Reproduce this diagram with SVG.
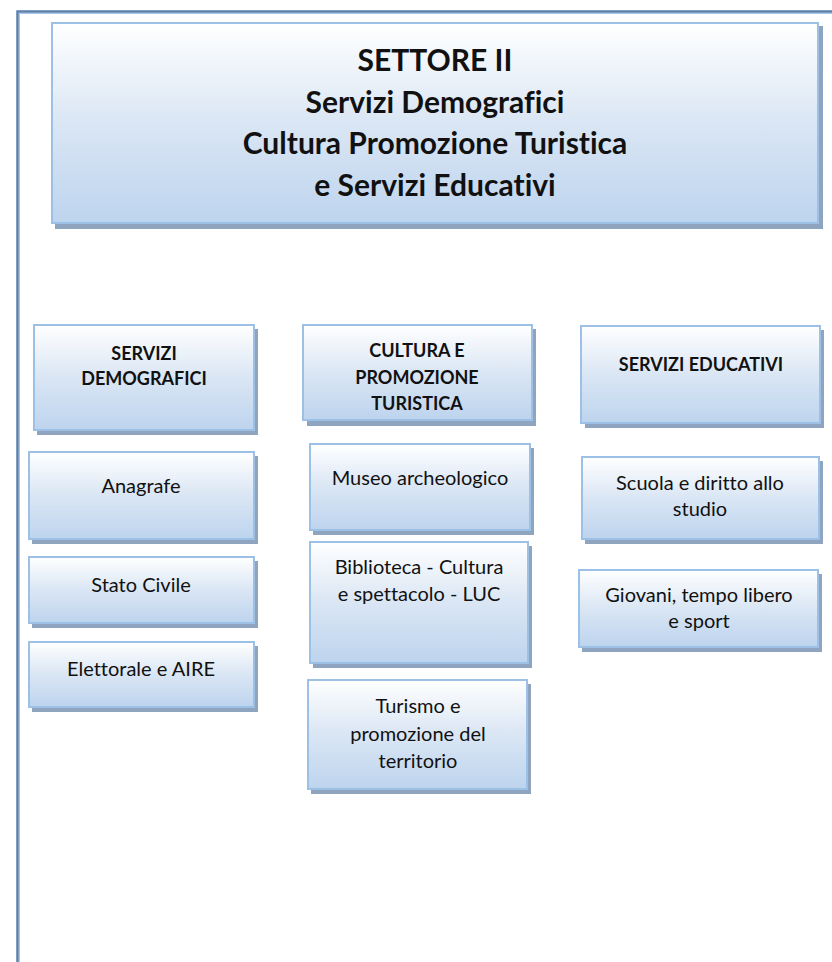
<svg xmlns="http://www.w3.org/2000/svg" width="832" height="962" viewBox="0 0 832 962">
<defs>
<linearGradient id="g" x1="0" y1="0" x2="0" y2="1">
<stop offset="0" stop-color="#ffffff"/>
<stop offset="0.5" stop-color="#dae6f4"/>
<stop offset="1" stop-color="#bdd4ee"/>
</linearGradient>
<style>
.box{fill:url(#g);stroke:#9dc1e6;stroke-width:2}
.sh{fill:#8fa5bf}
.t{font-family:Lato,"Open Sans","Liberation Sans",sans-serif;fill:#111;text-anchor:middle;font-variant-ligatures:none}
.h{font-size:30px;font-weight:bold}
.b{font-size:18px;font-weight:bold}
.r{font-size:20px}
</style>
</defs>
<rect width="832" height="962" fill="#ffffff"/>
<g id="frame">
<rect x="17.5" y="11.5" width="900" height="1000" fill="none" stroke="#5a80ae" stroke-width="2.5"/>
<rect x="19.5" y="13.5" width="900" height="1000" fill="none" stroke="#a9c6e6" stroke-width="1"/>
</g>
<g id="settore">
<rect class="sh" x="55" y="26" width="768" height="203"/>
<rect class="box" x="52" y="23" width="766" height="200"/>
<text class="t h" x="435" y="71">SETTORE II</text>
<text class="t h" x="435" y="113">Servizi Demografici</text>
<text class="t h" x="435" y="154">Cultura Promozione Turistica</text>
<text class="t h" x="435" y="196">e Servizi Educativi</text>
</g>
<g id="servizi-demografici">
<rect class="sh" x="37" y="329" width="221" height="106"/>
<rect class="box" x="34" y="325" width="220" height="105"/>
<text class="t b" x="144" y="360">SERVIZI</text>
<text class="t b" x="144" y="385">DEMOGRAFICI</text>
</g>
<g id="cultura">
<rect class="sh" x="307" y="329" width="229" height="97"/>
<rect class="box" x="303" y="325" width="229" height="95"/>
<text class="t b" x="417" y="357">CULTURA E</text>
<text class="t b" x="417" y="384">PROMOZIONE</text>
<text class="t b" x="417" y="410">TURISTICA</text>
</g>
<g id="servizi-educativi">
<rect class="sh" x="585" y="330" width="239" height="98"/>
<rect class="box" x="581" y="326" width="239" height="97"/>
<text class="t b" x="701" y="371">SERVIZI EDUCATIVI</text>
</g>
<g id="anagrafe">
<rect class="sh" x="32" y="456" width="226" height="88"/>
<rect class="box" x="29" y="452" width="225" height="87"/>
<text class="t r" x="141" y="493">Anagrafe</text>
</g>
<g id="stato-civile">
<rect class="sh" x="32" y="561" width="226" height="67"/>
<rect class="box" x="29" y="557" width="225" height="66"/>
<text class="t r" x="141" y="592">Stato Civile</text>
</g>
<g id="elettorale">
<rect class="sh" x="32" y="646" width="226" height="66"/>
<rect class="box" x="29" y="642" width="225" height="65"/>
<text class="t r" x="141" y="676">Elettorale e AIRE</text>
</g>
<g id="museo">
<rect class="sh" x="313" y="448" width="221" height="87"/>
<rect class="box" x="310" y="444" width="220" height="86"/>
<text class="t r" x="420" y="485">Museo archeologico</text>
</g>
<g id="biblioteca">
<rect class="sh" x="313" y="546" width="219" height="122"/>
<rect class="box" x="310" y="542" width="218" height="121"/>
<text class="t r" x="419" y="574">Biblioteca - Cultura</text>
<text class="t r" x="419" y="601">e spettacolo - LUC</text>
</g>
<g id="turismo">
<rect class="sh" x="311" y="684" width="220" height="110"/>
<rect class="box" x="308" y="680" width="219" height="109"/>
<text class="t r" x="418" y="713">Turismo e</text>
<text class="t r" x="418" y="741">promozione del</text>
<text class="t r" x="418" y="768">territorio</text>
</g>
<g id="scuola">
<rect class="sh" x="585" y="461" width="238" height="83"/>
<rect class="box" x="582" y="457" width="237" height="82"/>
<text class="t r" x="700" y="490">Scuola e diritto allo</text>
<text class="t r" x="700" y="516">studio</text>
</g>
<g id="giovani">
<rect class="sh" x="582" y="574" width="240" height="78"/>
<rect class="box" x="579" y="570" width="239" height="77"/>
<text class="t r" x="699" y="602">Giovani, tempo libero</text>
<text class="t r" x="699" y="628">e sport</text>
</g>
<g id="connectors"/>
</svg>
